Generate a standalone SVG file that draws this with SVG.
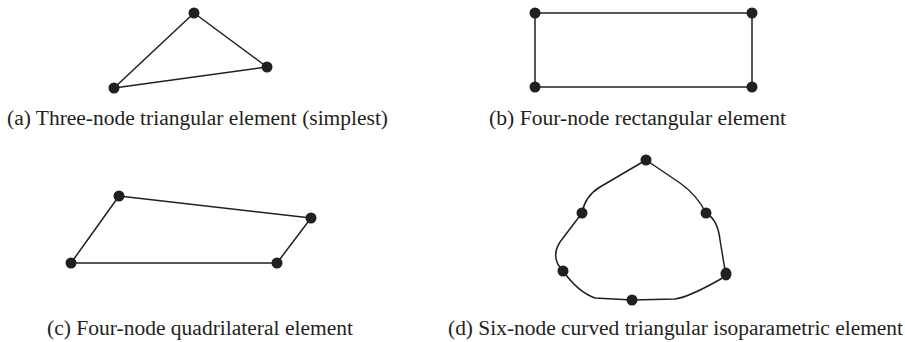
<svg xmlns="http://www.w3.org/2000/svg" width="905" height="342" viewBox="0 0 905 342">
<style>
.edge{fill:none;stroke:#231f20;stroke-width:1.5;stroke-linejoin:round;stroke-linecap:round}
.node{fill:#231f20}
.cap{font-family:"Liberation Serif","Times New Roman",serif;font-size:20px;fill:#231f20}
</style>
<rect width="905" height="342" fill="#ffffff"/>
<g id="connectors">
<polygon class="edge" points="194,13 267,67 114,88"/>
<rect class="edge" x="535" y="13" width="217" height="74"/>
<polygon class="edge" points="119,196 311,218 277,263 71,263"/>
<path class="edge" d="M646,160 L600,187 Q585,196 582,213 L560,242 Q550,258 563,271 Q578,292 595,298 L632,300 L675,299 Q690,297 726,276 L725,270 L720,240 Q718,220 706,213 Q697,195 680,183 Z"/>
</g>
<g id="element-a">
<circle class="node" cx="194" cy="13" r="5.5"/>
<circle class="node" cx="267" cy="67" r="5.5"/>
<circle class="node" cx="114" cy="88" r="5.5"/>
<text class="cap" x="7" y="125" textLength="381" lengthAdjust="spacingAndGlyphs">(a) Three-node triangular element (simplest)</text>
</g>
<g id="element-b">
<circle class="node" cx="535" cy="13" r="5.5"/>
<circle class="node" cx="752" cy="13" r="5.5"/>
<circle class="node" cx="535" cy="87" r="5.5"/>
<circle class="node" cx="752" cy="87" r="5.5"/>
<text class="cap" x="489" y="125" textLength="297" lengthAdjust="spacingAndGlyphs">(b) Four-node rectangular element</text>
</g>
<g id="element-c">
<circle class="node" cx="119" cy="196" r="5.5"/>
<circle class="node" cx="311" cy="218" r="5.5"/>
<circle class="node" cx="277" cy="263" r="5.5"/>
<circle class="node" cx="71" cy="263" r="5.5"/>
<text class="cap" x="47" y="335" textLength="306" lengthAdjust="spacingAndGlyphs">(c) Four-node quadrilateral element</text>
</g>
<g id="element-d">
<circle class="node" cx="646" cy="160" r="5.5"/>
<circle class="node" cx="582" cy="213" r="5.5"/>
<circle class="node" cx="706" cy="213" r="5.5"/>
<circle class="node" cx="563" cy="271" r="5.5"/>
<circle class="node" cx="632" cy="300" r="5.5"/>
<ellipse class="node" cx="726" cy="274" rx="5.5" ry="6.5"/>
<text class="cap" x="448" y="335" textLength="455" lengthAdjust="spacingAndGlyphs">(d) Six-node curved triangular isoparametric element</text>
</g>
</svg>
